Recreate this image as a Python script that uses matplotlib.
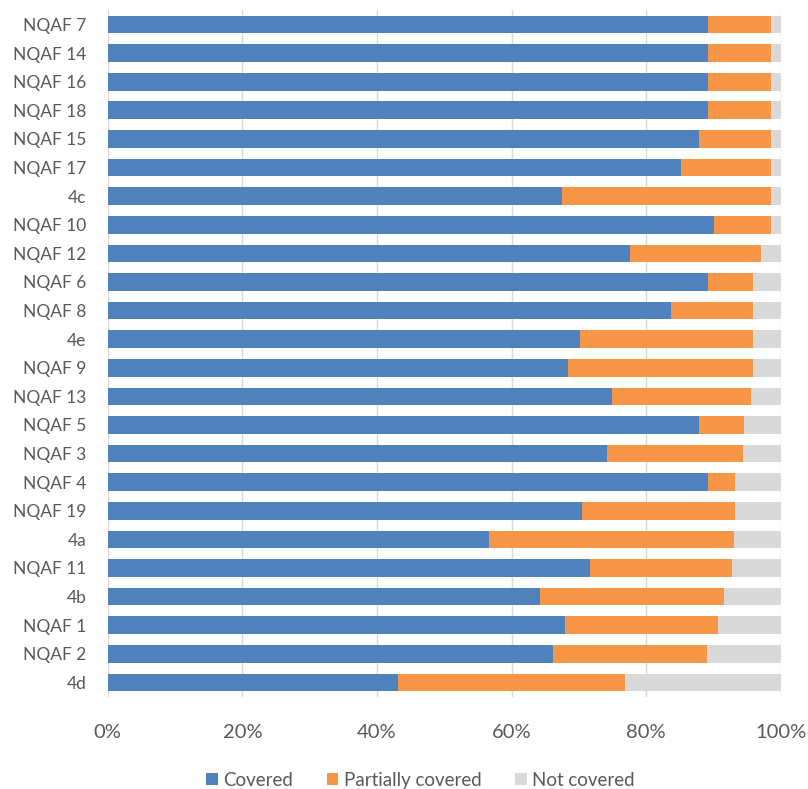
import numpy as np
import matplotlib.pyplot as plt

plt.rcParams['font.family'] = ['Lato', 'DejaVu Sans']

# coverage per indicator, in percent (top row first)
labels = ['NQAF 7', 'NQAF 14', 'NQAF 16', 'NQAF 18', 'NQAF 15', 'NQAF 17', '4c',
          'NQAF 10', 'NQAF 12', 'NQAF 6', 'NQAF 8', '4e', 'NQAF 9', 'NQAF 13',
          'NQAF 5', 'NQAF 3', 'NQAF 4', 'NQAF 19', '4a', 'NQAF 11', '4b',
          'NQAF 1', 'NQAF 2', '4d']
covered = [89.2, 89.2, 89.2, 89.2, 87.9, 85.2, 67.5,
           90.1, 77.6, 89.2, 83.7, 70.1, 68.4, 74.9,
           87.9, 74.2, 89.2, 70.5, 56.6, 71.7, 64.2,
           67.9, 66.1, 43.1]
partial = [9.3, 9.3, 9.3, 9.3, 10.6, 13.3, 31.0,
           8.4, 19.5, 6.7, 12.1, 25.7, 27.4, 20.7,
           6.6, 20.2, 4.0, 22.7, 36.5, 21.1, 27.4,
           22.7, 23.0, 33.8]
not_covered = [1.5, 1.5, 1.5, 1.5, 1.5, 1.5, 1.5,
               1.5, 2.9, 4.1, 4.2, 4.2, 4.2, 4.4,
               5.5, 5.6, 6.8, 6.8, 6.9, 7.2, 8.4,
               9.4, 10.9, 23.1]

blue = '#4F81BD'
orange = '#F79646'
grey = '#D9D9D9'

fig = plt.figure(figsize=(8.08, 7.89), dpi=100)
ax = fig.add_axes([0.1333, 0.117, 0.833, 0.870])

y = np.arange(len(labels))
h = 0.62
left2 = np.array(covered) + np.array(partial)
ax.barh(y, covered, height=h, color=blue, label='Covered', zorder=2)
ax.barh(y, partial, left=covered, height=h, color=orange, label='Partially covered', zorder=2)
ax.barh(y, not_covered, left=left2, height=h, color=grey, label='Not covered', zorder=2)

ax.set_xlim(0, 100)
ax.set_ylim(len(labels) - 0.5, -0.5)
ax.set_yticks(y)
ax.set_yticklabels(labels, fontsize=12.5, color='#595959')
ax.set_xticks(range(0, 101, 20))
ax.set_xticklabels(['%d%%' % v for v in range(0, 101, 20)], fontsize=14.5, color='#595959')
ax.tick_params(length=0)
ax.tick_params(axis='x', pad=20)
ax.tick_params(axis='y', pad=15.5)
ax.grid(axis='x', color='#D9D9D9', linewidth=1, zorder=0)
for s in ax.spines.values():
    s.set_visible(False)

ax.legend(loc='upper center', bbox_to_anchor=(0.465, -0.085), ncol=3, frameon=False,
          fontsize=13.5, handlelength=0.6, handleheight=0.6, handletextpad=0.3,
          columnspacing=1.8, labelcolor='#595959')

fig.savefig('out.png', dpi=100)
